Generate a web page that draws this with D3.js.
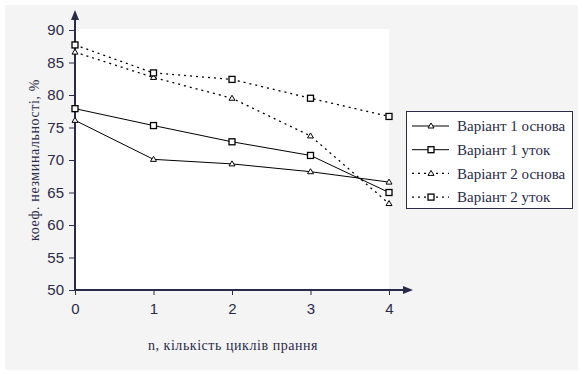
<!DOCTYPE html>
<html><head><meta charset="utf-8">
<script src="https://cdn.jsdelivr.net/npm/d3@7"></script>
<style>body{margin:0;background:#fff}svg{display:block}
.serif{font-family:"Liberation Serif","Times New Roman",serif}
.sans{font-family:"Liberation Sans",Arial,sans-serif}</style>
</head><body>
<svg id="c" width="583" height="374"></svg>
<script>
const cycles = [0, 1, 2, 3, 4];
const yTicks = [50, 55, 60, 65, 70, 75, 80, 85, 90];
const seriesNames = ["Варіант 1 основа", "Варіант 1 уток", "Варіант 2 основа", "Варіант 2 уток"];
const v1Osnova = [76.1, 70.1, 69.4, 68.2, 66.6];
const v1Utok   = [77.9, 75.3, 72.8, 70.7, 65.0];
const v2Osnova = [86.6, 82.7, 79.5, 73.7, 63.3];
const v2Utok   = [87.7, 83.4, 82.4, 79.5, 76.7];
const seriesMarkers = ["triangle", "square", "triangle", "square"];
const seriesDashed = [false, false, true, true];
const yTitle = "коеф. незминальності, %";
const xTitle = "n, кількість циклів прання";

const series = [v1Osnova, v1Utok, v2Osnova, v2Utok].map((v, i) => ({
  name: seriesNames[i], values: v, marker: seriesMarkers[i], dashed: seriesDashed[i]
}));

const svg = d3.select("#c");
const ink = "#2a2a4a";

svg.append("rect").attr("x", 5).attr("y", 5).attr("width", 573).attr("height", 365).attr("fill", "#f4f4f4");

const x = d3.scaleLinear().domain([0, 4]).range([75, 389]);
const y = d3.scaleLinear().domain([50, 90]).range([290, 30]);

svg.append("rect").attr("x", x(0)).attr("y", 29).attr("width", x(4) - x(0)).attr("height", y(50) - 29).attr("fill", "#fff");

// axes
const yAxis = svg.append("g").attr("transform", `translate(${x(0)},0)`)
  .call(d3.axisLeft(y).tickValues(yTicks).tickFormat(d3.format("d")).tickSize(6).tickPadding(5));
const xAxis = svg.append("g").attr("transform", `translate(0,${y(50)})`)
  .call(d3.axisBottom(x).tickValues(cycles).tickFormat(d3.format("d")).tickSize(6).tickPadding(7));
[yAxis, xAxis].forEach(g => {
  g.select(".domain").remove();
  g.selectAll("line").attr("stroke", ink).attr("stroke-width", 1);
  g.selectAll("text").attr("fill", ink).attr("class", "sans").attr("font-size", 15);
});
xAxis.selectAll("line").attr("y2", 5);

// axis lines with arrows
svg.append("line").attr("x1", x(0)).attr("x2", x(0)).attr("y1", y(50)).attr("y2", 16)
  .attr("stroke", ink).attr("stroke-width", 2);
svg.append("path").attr("d", `M${x(0)},10 L${x(0) - 4},20 L${x(0) + 4},20 Z`).attr("fill", ink);
svg.append("line").attr("x1", x(0)).attr("x2", 404).attr("y1", y(50)).attr("y2", y(50))
  .attr("stroke", ink).attr("stroke-width", 2);
svg.append("path").attr("d", `M413,${y(50)} L403,${y(50) - 4} L403,${y(50) + 4} Z`).attr("fill", ink);

// lines
const line = d3.line().x((d, i) => x(cycles[i])).y(d => y(d));
const drawMarker = (g, type, cx, cy) => {
  if (type === "square") {
    g.append("rect").attr("x", cx - 3).attr("y", cy - 3).attr("width", 6).attr("height", 6)
      .attr("fill", "#fff").attr("stroke", "#000").attr("stroke-width", 1.3);
  } else {
    g.append("path").attr("d", `M${cx},${cy - 3} L${cx - 3},${cy + 2} L${cx + 3},${cy + 2} Z`)
      .attr("fill", "#fff").attr("stroke", "#000").attr("stroke-width", 1);
  }
};
series.forEach(s => {
  const g = svg.append("g");
  g.append("path").attr("d", line(s.values)).attr("fill", "none").attr("stroke", "#000")
    .attr("stroke-width", s.dashed ? 1.3 : 1).attr("stroke-dasharray", s.dashed ? "2,4" : null);
  s.values.forEach((v, i) => drawMarker(g, s.marker, x(cycles[i]), y(v)));
});

// legend
const lg = svg.append("g");
lg.append("rect").attr("x", 406.5).attr("y", 111.5).attr("width", 166).attr("height", 97)
  .attr("fill", "#fff").attr("stroke", ink).attr("stroke-width", 1);
series.forEach((s, i) => {
  const cy = 126 + i * 23.7;
  lg.append("line").attr("x1", 412).attr("x2", 449).attr("y1", cy).attr("y2", cy)
    .attr("stroke", "#000").attr("stroke-width", s.dashed ? 1.3 : 1).attr("stroke-dasharray", s.dashed ? "2,4" : null);
  drawMarker(lg, s.marker, 431, cy);
  lg.append("text").attr("x", 457).attr("y", cy).attr("dy", "0.35em").text(s.name)
    .attr("fill", ink).attr("class", "serif").attr("font-size", 15);
});

// titles
svg.append("text").attr("transform", `translate(34,160) rotate(-90)`).attr("text-anchor", "middle")
  .attr("dy", "0.35em").text(yTitle).attr("fill", ink).attr("class", "serif").attr("font-size", 14)
  .attr("letter-spacing", 0.6);
svg.append("text").attr("x", 233).attr("y", 345).attr("text-anchor", "middle").attr("dy", "0.35em")
  .text(xTitle).attr("fill", ink).attr("class", "serif").attr("font-size", 14).attr("letter-spacing", 0.55);
</script>
</body></html>
